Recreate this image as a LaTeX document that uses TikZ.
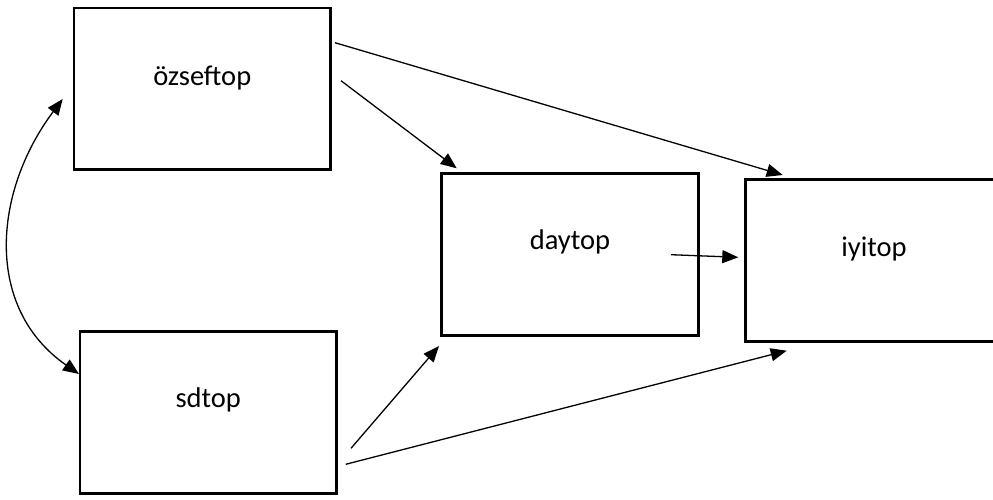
\documentclass[tikz,border=0pt]{standalone}
\usepackage{fontspec}
\setmainfont{Carlito}
\usetikzlibrary{arrows.meta,calc}
\begin{document}
\begin{tikzpicture}[x=1pt,y=-1pt,
  box/.style={draw, line width=2.6pt, minimum width=256.5pt, minimum height=161.7pt, inner sep=0pt},
  lbl/.style={font=\fontsize{28.5}{34}\selectfont, inner sep=0pt},
  tip/.style={Triangle[length=16pt,width=13pt]},
  conn/.style={line width=1.3pt, -{Triangle[length=16pt,width=13pt]}}]
\useasboundingbox (0,0) rectangle (993,499);
\clip (0,0) rectangle (993,499);
\fill[white] (0,0) rectangle (993,499);
% boxes
\node[box] (oz) at (202.25,88.75) {};
\node[box] (sd) at (208.25,412.5) {};
\node[box] (day) at (570,254.6) {};
\node[box] (iyi) at (874,260.4) {};
% texts
\node[lbl] (oztxt) at ($(oz)+(0,-10.5)$) {özseftop};
\node[lbl] (sdtxt) at ($(sd)+(0,-13)$) {sdtop};
\node[lbl] (daytxt) at ($(day)+(0,-13)$) {daytop};
\node[lbl] (iyitxt) at ($(iyi)+(0,-11.7)$) {iyitop};
% connector end points
\coordinate (a1s) at (335,42.7);
\coordinate (a1e) at (782.7,175);
\coordinate (a2s) at (341,80.7);
\coordinate (a2e) at (456.7,168.3);
\coordinate (a3s) at (671,254.7);
\coordinate (a3e) at (738.3,257.3);
\coordinate (a4s) at (351,448.3);
\coordinate (a4e) at (439,346);
\coordinate (a5s) at (345.7,464.3);
\coordinate (a5e) at (786.7,350.7);
\coordinate (cvt) at (62.7,99);
\coordinate (cvb) at (79,374);
% connectors
\draw[conn] (a1s) -- (a1e);
\draw[conn] (a2s) -- (a2e);
\draw[conn] (a3s) -- (a3e);
\draw[conn] (a4s) -- (a4e);
\draw[conn] (a5s) -- (a5e);
\draw[line width=1.3pt, {Triangle[length=16pt,width=13pt]}-{Triangle[length=16pt,width=13pt]}]
  (cvt) .. controls (-7,192) and (-16,308) .. (cvb);
\end{tikzpicture}
\end{document}
